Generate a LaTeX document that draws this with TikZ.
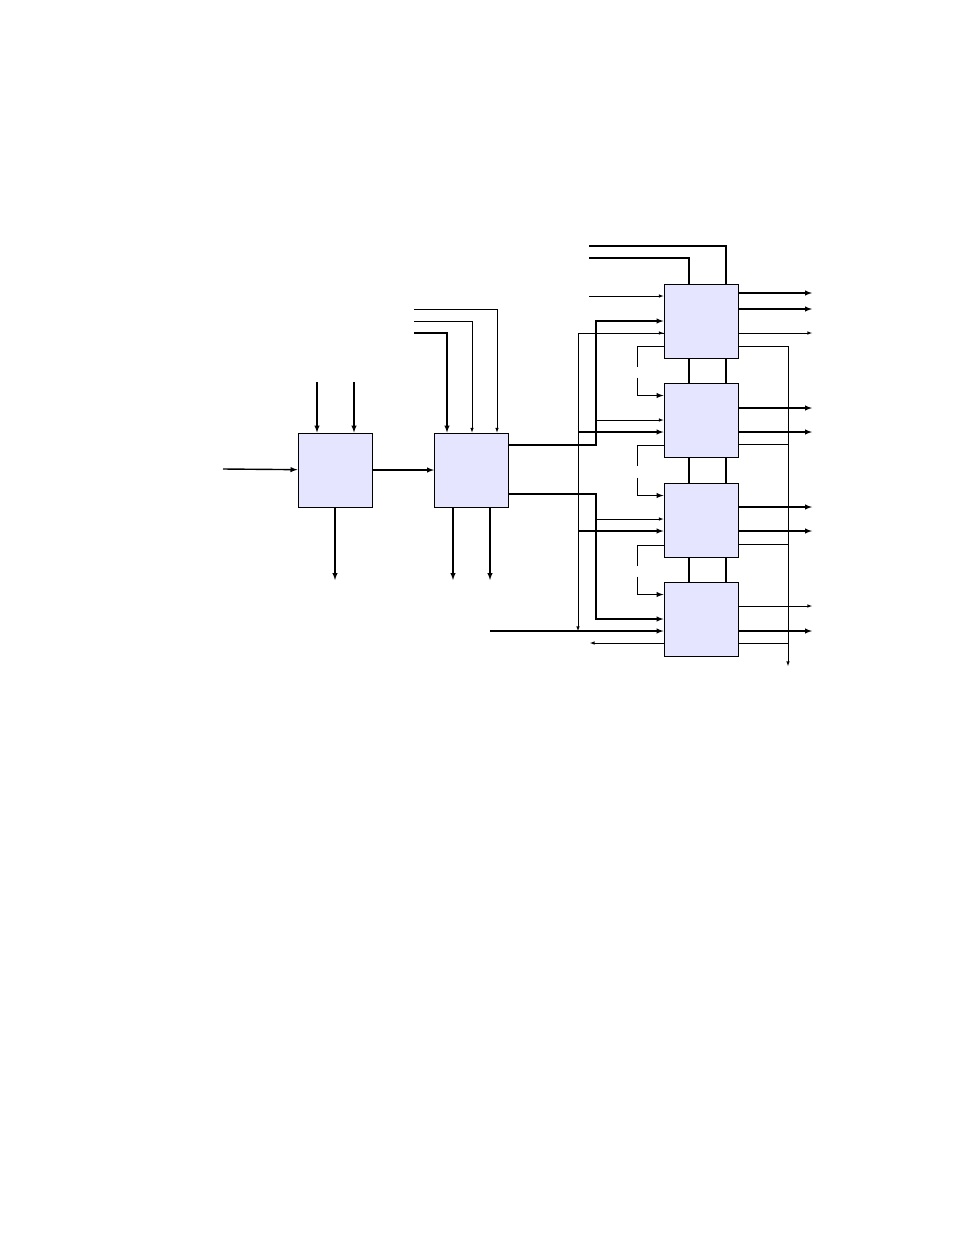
\documentclass[tikz,border=0pt]{standalone}
\usepackage{tikz}
\begin{document}
\begin{tikzpicture}[x=1pt, y=-1pt, >=latex,
    every path/.style={line width=0.6pt},
    blk/.style={rectangle, draw, line width=1pt, fill=blue!10!white, minimum width=74pt, minimum height=74pt, inner sep=0pt},
    thk/.style={line width=1.4pt}]
    \useasboundingbox (0,0) rectangle (954,1235);
    \node (a) [blk] at (335,470) {};
    \node (b) [blk] at (471.5,470) {};
    \node (r1) [blk] at (701,321) {};
    \node (r2) [blk] at (701,420) {};
    \node (r3) [blk] at (701,520) {};
    \node (r4) [blk] at (701,619) {};

    % free ends
    \coordinate (ain) at (223,469);
    \coordinate (xin) at (490,631);
    \coordinate (tap) at (788,666);

    % first block
    \draw[thk,->] (317,382) -- (a.north -| 317,0);
    \draw[thk,->] (354,382) -- (a.north -| 354,0);
    \draw[thk,->] (ain) -- (a);
    \draw[thk,->] (a.south) -- (335,580);
    \draw[thk,->] (a) -- (b);

    % second block
    \draw[thk,->] (414,333) -| (b.north -| 447,0);
    \draw[->] (414,321) -| (b.north -| 472,0);
    \draw[->] (414,309) -| (b.north -| 497,0);
    \draw[thk,->] (b.south -| 453,0) -- (453,580);
    \draw[thk,->] (b.south -| 490,0) -- (490,580);

    % fan out
    \draw[thk,->] (b.east |- 0,445) -| (596,321) -- (r1.west |- 0,321);
    \draw[->] (596,420) -- (r2.west |- 0,420);
    \draw[thk,->] (b.east |- 0,494) -| (596,619) -- (r4.west |- 0,619);
    \draw[->] (596,519) -- (r3.west |- 0,519);
    \draw[->] (r1.west |- 0,333) -- (578,333) -- (578,631);
    \draw[<-] (r1.west |- 0,333) -- (578,333);
    \draw[thk,->] (578,432) -- (r2.west |- 0,432);
    \draw[thk,->] (578,531) -- (r3.west |- 0,531);
    \draw[thk,->] (xin) -- (r4.west |- 0,631);
    \draw[->] (r4.west |- 0,643) -- (590,643);

    % top inputs
    \draw[thk] (589,246) -| (r1.north -| 726,0);
    \draw[thk] (589,258) -| (r1.north -| 689,0);
    \draw[->] (589,296) -- (r1.west |- 0,296);

    % links between stages
    \foreach \u/\v in {r1/r2, r2/r3, r3/r4} {
        \draw[thk] (\u.south -| 689,0) -- (\v.north -| 689,0);
        \draw[thk] (\u.south -| 726,0) -- (\v.north -| 726,0);
        \draw[thk] (\u.south west) ++(0,-12) -- ++(-26,0) -- ++(0,20);
        \draw[thk,->] (\v.north west) ++(-26,-5) -- ++(0,18) -- ++(26,0);
    }

    % outputs
    \draw[thk,->] (r1.east |- 0,293) -- (812,293);
    \draw[thk,->] (r1.east |- 0,309) -- (812,309);
    \draw[->] (r1.east |- 0,333) -- (812,333);
    \draw[->] (r1.east |- 0,346) -| (tap);
    \draw[thk,->] (r2.east |- 0,408) -- (812,408);
    \draw[thk,->] (r2.east |- 0,432) -- (812,432);
    \draw (r2.east |- 0,444) -- (788,444);
    \draw[thk,->] (r3.east |- 0,507) -- (812,507);
    \draw[thk,->] (r3.east |- 0,531) -- (812,531);
    \draw (r3.east |- 0,544) -- (788,544);
    \draw[->] (r4.east |- 0,606) -- (812,606);
    \draw[thk,->] (r4.east |- 0,631) -- (812,631);
    \draw (r4.east |- 0,643) -- (788,643);
\end{tikzpicture}
\end{document}
